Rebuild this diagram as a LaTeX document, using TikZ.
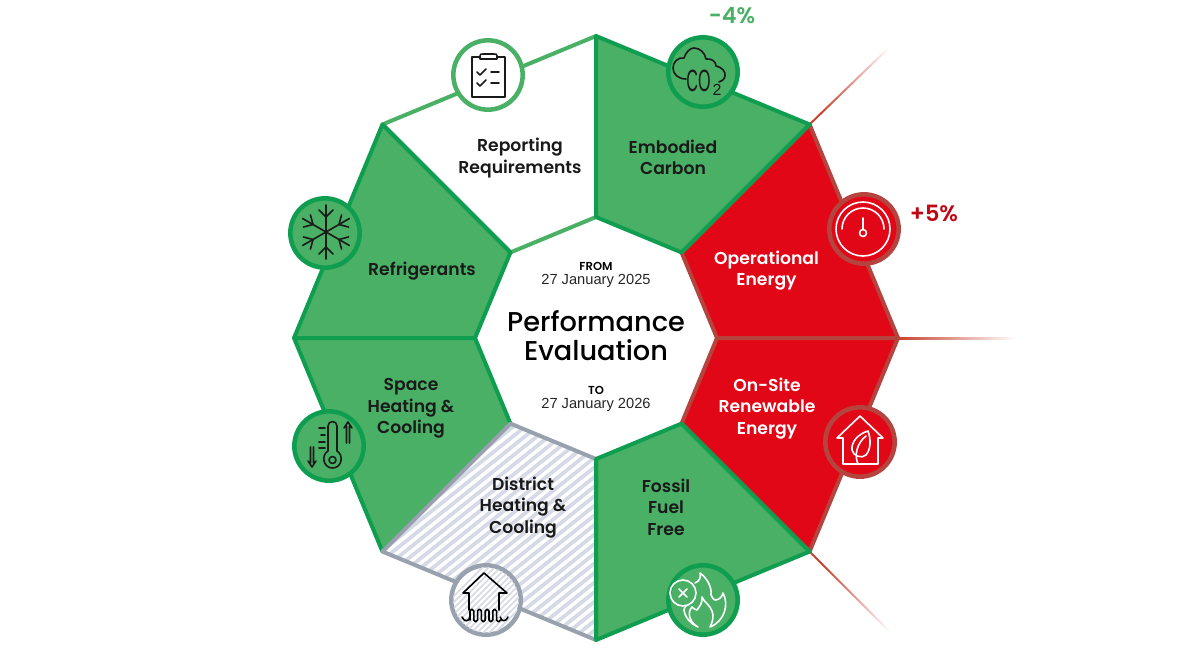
\documentclass[tikz,border=0pt]{standalone}
\usepackage{fontspec}
\setmainfont{Poppins}[BoldFont={Poppins SemiBold}]
\newfontfamily\titlefont{Poppins Medium}
\newfontfamily\datefont{Liberation Sans}
\usetikzlibrary{calc}
\definecolor{sectgreen}{HTML}{49B066}
\definecolor{edgegreen}{HTML}{0F9D50}
\definecolor{sectred}{HTML}{E10717}
\definecolor{edgered}{HTML}{B4443D}
\definecolor{edgegray}{HTML}{9AA1AE}
\definecolor{stripegray}{HTML}{D5DAE6}
\definecolor{raycolor}{HTML}{C8432F}
\definecolor{inkblack}{HTML}{1A1A1A}
\tikzset{
	sect/.style={line width=3pt, line join=round},
	badge/.style={circle, minimum size=52pt, inner sep=0pt, line width=3.4pt, draw=#1},
	label/.style={align=center, font=\bfseries\fontsize{12.9}{16.1}\selectfont, text=inkblack, inner sep=0pt},
	title/.style={align=center, font=\titlefont\fontsize{20.4}{21.8}\selectfont, text=black, inner sep=0pt},
	datetext/.style={align=center, font=\datefont\fontsize{11}{11}\selectfont, text=black!85, inner sep=0pt},
	small/.style={font=\bfseries\fontsize{8.7}{10}\selectfont, text=black, inner sep=0pt},
	delta/.style={font=\bfseries\fontsize{16.8}{18}\selectfont, inner sep=0pt},
	icon/.style={line width=1.2pt, line cap=round, line join=round, draw=#1},
	ray/.style={draw=none, bottom color=raycolor, top color=white},
	stripe/.style={stripegray, line width=2.8pt},
	finestripe/.style={stripegray, line width=1.3pt},
}
\begin{document}
\begin{tikzpicture}[x=0.75pt, y=-0.75pt]
\useasboundingbox (0,0) rectangle (1189,657);
\coordinate (c) at (596,338);
\foreach \a in {0,45,...,315} {
	\coordinate (o\a) at ($(c)+(\a:302)$);
	\coordinate (i\a) at ($(c)+(\a:121)$);
}

% rays
\shade[ray, shading angle=-90] ($(o0)+(0,-1)$) rectangle (1016,339);
\shade[ray, shading angle=-45] ($(o315)+(-0.7,-0.7)$) -- (902.3,33.3) -- (903.7,34.7) -- ($(o315)+(0.7,0.7)$) -- cycle;
\shade[ray, shading angle=-135] ($(o45)+(0.7,-0.7)$) -- (903.7,644.3) -- (902.3,645.7) -- ($(o45)+(-0.7,0.7)$) -- cycle;

% sectors
\draw[sect, fill=white, draw=sectgreen] (o225) -- (o270) -- (i270) -- (i225) -- cycle;
\foreach \a/\b in {315/360, 0/45} {
	\pgfmathtruncatemacro{\e}{mod(\b,360)}
	\draw[sect, fill=sectred, draw=edgered] (o\a) -- (o\e) -- (i\e) -- (i\a) -- cycle;
}
\foreach \a/\b in {270/315, 180/225, 135/180} {
	\draw[sect, fill=sectgreen, draw=edgegreen] (o\a) -- (o\b) -- (i\b) -- (i\a) -- cycle;
}
\begin{scope}
	\clip (o90) -- (o135) -- (i135) -- (i90) -- cycle;
	\fill[white] (381,424) rectangle (596,640);
	\foreach \s in {150,162,...,800} {
		\draw[stripe] (\s,650) -- ++(400,-320);
	}
\end{scope}
\draw[sect, draw=edgegray] (o90) -- (o135) -- (i135) -- (i90) -- cycle;
\draw[sect, fill=sectgreen, draw=edgegreen] (o45) -- (o90) -- (i90) -- (i45) -- cycle;

% badges
\node[badge=sectgreen, fill=white] (reporting) at (488,75) {};
\node[badge=edgegreen, fill=sectgreen] (embodied) at (703,72) {};
\node[badge=edgered, fill=sectred] (operational) at (864,229) {};
\node[badge=edgered, fill=sectred] (onsite) at (860,442) {};
\node[badge=edgegreen, fill=sectgreen] (fossil) at (703,600) {};
\node[badge=edgegray, fill=white] (district) at (486,600) {};
\node[badge=edgegreen, fill=sectgreen] (space) at (329,446) {};
\node[badge=edgegreen, fill=sectgreen] (refrigerants) at (325,233) {};
\begin{scope}
	\clip (486,600) circle (33);
	\foreach \s in {400,406,...,600} {
		\draw[finestripe] (\s,650) -- ++(100,-100);
	}
\end{scope}

% clipboard
\draw[icon=inkblack] (480,57) -- (472,57) -- (472,97) -- (505,97) -- (505,57) -- (497,57);
\draw[icon=inkblack] (480,59) -- (480,56) .. controls (480,54) and (481,54) .. (483,54) -- (494,54) .. controls (496,54) and (497,54) .. (497,56) -- (497,59) -- cycle;
\foreach \y in {72,83} {
	\draw[icon=inkblack] (477,\y) -- (480,\y+3) -- (486,\y-3);
	\draw[icon=inkblack] (491,\y) -- (499,\y);
}

% cloud
\draw[icon=inkblack] (686,79) .. controls (678,79) and (673,74) .. (673,68) .. controls (673,62) and (678,57) .. (684,58)
	.. controls (686,52) and (690,48) .. (694,48) .. controls (700,48) and (705,53) .. (706,59)
	.. controls (712,58) and (716,62) .. (716,66) .. controls (722,67) and (726,72) .. (725,76) .. controls (724,80) and (722,81) .. (719,82);
\node[inner sep=0pt, text=inkblack, font=\datefont\fontsize{22}{22}\selectfont] (co) at (698.5,81) {\scalebox{0.55}[1.05]{CO}};
\node[inner sep=0pt, text=inkblack, font=\datefont\fontsize{12}{12}\selectfont] (cotwo) at (717,90) {2};

% gauge
\draw[icon=white] (863,229) circle (27);
\draw[icon=white] (842,229) arc (180:360:21);
\draw[icon=white] (863,233) circle (3.5);
\draw[icon=white] (863,229.5) -- (863,218);

% leaf house
\draw[icon=white] (843,438) -- (837,438) -- (860,416) -- (883,438) -- (878,438) -- (878,464) -- (843,464) -- cycle;
\draw[icon=white] (868,431) .. controls (858,434) and (851,442) .. (852,450) .. controls (853,456) and (862,459) .. (866,455) .. controls (871,449) and (871,439) .. (868,431) -- cycle;
\draw[icon=white] (858,464) .. controls (854,455) and (857,443) .. (866,436);

% flame
\draw[icon=white] (683,593) circle (13);
\draw[icon=white] (679,589) -- (687,597);
\draw[icon=white] (687,589) -- (679,597);
\draw[icon=white] (695,583) .. controls (700,581) and (701,577) .. (700,573) .. controls (707,578) and (712,587) .. (711,595)
	.. controls (712,598) and (714,600) .. (715,600) .. controls (719,600) and (722,597) .. (723,593)
	.. controls (729,604) and (725,621) .. (710,627) .. controls (713,621) and (714,616) .. (712,611)
	.. controls (710,605) and (704,602) .. (702,597) .. controls (703,603) and (699,607) .. (697,610)
	.. controls (695,610) and (693,608) .. (692,607) .. controls (687,612) and (689,622) .. (698,627)
	.. controls (691,624) and (685,618) .. (684,610) .. controls (684,608) and (685,607) .. (686,606);

% pipe house
\draw[icon=black] (469,610) -- (469,593) -- (463,593) -- (484,573) -- (507,593) -- (499,593) -- (499,610);
\draw[icon=black] (462,617) .. controls (464,622) and (469,622) .. (470,617);
\foreach \x in {470,477.6,485.2,492.8} {
	\draw[icon=black] (\x,620) -- (\x,611) arc (180:360:1.9) -- (\x+3.8,620) arc (180:0:1.9);
}
\draw[icon=black] (500.4,617) .. controls (501,622) and (506,622) .. (508,617);

% thermometer
\draw[icon=inkblack] (328,451) -- (328,426) arc (180:360:4.5) -- (337,451) .. controls (344,455) and (342,468) .. (332.5,468) .. controls (323,468) and (321,455) .. (328,451) -- cycle;
\draw[icon=inkblack] (332.5,460) circle (3.5);
\foreach \y/\w in {428/6, 435/4, 442/6, 448/6} {
	\draw[icon=inkblack] (325,\y) -- (325-\w,\y);
}
\draw[icon=inkblack] (346.5,443) -- (346.5,426) (349.5,443) -- (349.5,426) (344,428) -- (348,422) -- (352,428);
\draw[icon=inkblack] (310.5,447) -- (310.5,463) (313.5,447) -- (313.5,463) (308,461) -- (312,467) -- (316,461);

% snowflake
\foreach \a in {30,90,...,330} {
	\draw[icon=inkblack] (326,232) -- ++(\a:27);
	\draw[icon=inkblack] ($(326,232)+(\a:15)$) -- ++(\a+45:10);
	\draw[icon=inkblack] ($(326,232)+(\a:15)$) -- ++(\a-45:10);
}

% labels
\node[label] (reportingtext) at (520,158) {Reporting\\Requirements};
\node[label] (embodiedtext) at (673,157.5) {Embodied\\Carbon};
\node[label, text=white] (operationaltext) at (766.5,270.5) {Operational\\Energy};
\node[label, text=white] (onsitetext) at (767,408.5) {On-Site\\Renewable\\Energy};
\node[label] (fossiltext) at (666,507) {Fossil\\Fuel\\Free};
\node[label] (districttext) at (523,507.5) {District\\Heating \&\\Cooling};
\node[label] (spacetext) at (411,408.5) {Space\\Heating \&\\Cooling};
\node[label] (refrigerantstext) at (422,271.5) {Refrigerants};

\node[title] (perf) at (596,335.5) {Performance\\Evaluation};
\node[small] (from) at (596,266) {FROM};
\node[datetext] (fromdate) at (596,281) {27 January 2025};
\node[small] (to) at (596,390) {TO};
\node[datetext] (todate) at (596,405) {27 January 2026};
\node[delta, text=sectgreen] (minus) at (732,16) {-4\%};
\node[delta, text=sectred!85!black] (plus) at (934,213) {+5\%};
\end{tikzpicture}
\end{document}
